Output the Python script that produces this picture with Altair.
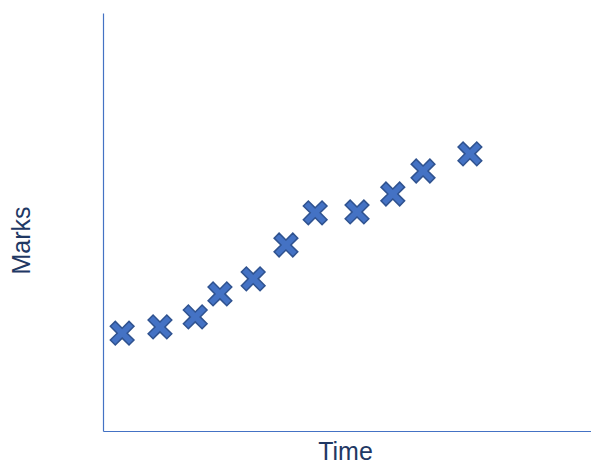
import altair as alt
import pandas as pd

time_vals = [0.38, 1.13, 1.83, 2.32, 2.98, 3.63, 4.21, 5.04, 5.75, 6.35, 7.28]
marks_vals = [23.4, 24.9, 27.3, 32.8, 36.4, 44.5, 52.2, 52.4, 56.7, 62.2, 66.3]

df = pd.DataFrame({"Time": time_vals, "Marks": marks_vals})

k = 0.42
x_path = (
    f"M0,{-k} L{1-k},-1 L1,{-(1-k)} L{k},0 L1,{1-k} L{1-k},1 "
    f"L0,{k} L{-(1-k)},1 L-1,{1-k} L{-k},0 L-1,{-(1-k)} L{-(1-k)},-1 Z"
)

title_color = "#1F3864"
axis_color = "#4472C4"

plot_w = 488
x_max = 10 * plot_w / 504

chart = (
    alt.Chart(df)
    .mark_point(
        shape=x_path,
        size=560,
        filled=True,
        fill="#4472C4",
        stroke="#2F528F",
        strokeWidth=1.5,
        opacity=1,
    )
    .encode(
        x=alt.X(
            "Time:Q",
            scale=alt.Scale(domain=[0, x_max], nice=False, zero=False),
            axis=alt.Axis(
                title="Time",
                labels=False,
                ticks=False,
                grid=False,
                domainColor=axis_color,
                domainWidth=1.2,
                titleFont="Liberation Sans",
                titleFontSize=25,
                titleFontWeight="normal",
                titleColor=title_color,
                titleX=242,
                titleY=33,
                titleAlign="center",
                titleBaseline="bottom",
            ),
        ),
        y=alt.Y(
            "Marks:Q",
            scale=alt.Scale(domain=[0, 100], nice=False, zero=False),
            axis=alt.Axis(
                title="Marks",
                labels=False,
                ticks=False,
                grid=False,
                domainColor=axis_color,
                domainWidth=1.2,
                titleFont="Liberation Sans",
                titleFontSize=25,
                titleFontWeight="normal",
                titleColor=title_color,
                titleX=-82,
                titleY=227,
                titleAngle=270,
                titleAlign="center",
                titleBaseline="middle",
            ),
        ),
    )
    .properties(
        width=plot_w,
        height=418,
        background="white",
        autosize=alt.AutoSizeParams(type="none"),
        padding={"left": 95, "top": 5, "right": 0, "bottom": 34},
    )
    .configure_view(stroke=None)
)

chart.save("out.html", embed_options={"renderer": "svg", "actions": False})
